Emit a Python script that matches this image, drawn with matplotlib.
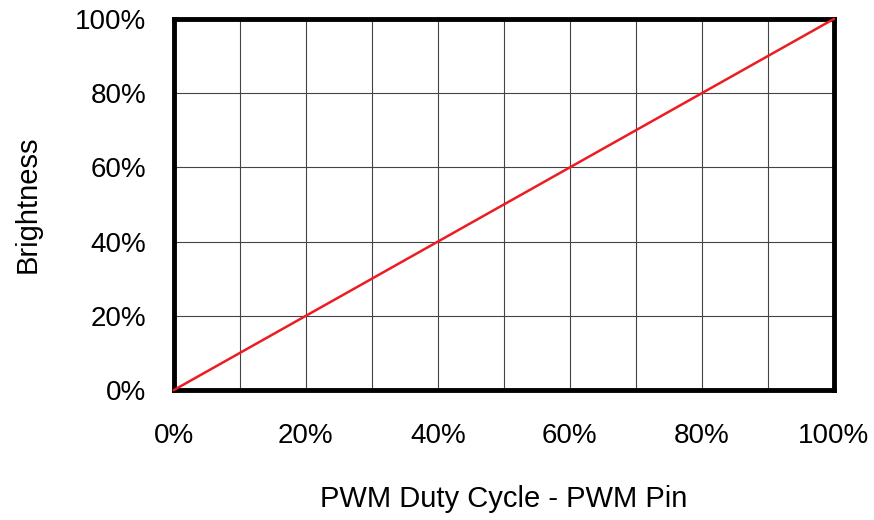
import numpy as np
from matplotlib import pyplot as plt
from matplotlib.ticker import PercentFormatter

plt.rcParams['font.family'] = ['Liberation Sans', 'DejaVu Sans']

duty = [0, 100]
brightness = [0, 100]
xticks = [0, 20, 40, 60, 80, 100]
yticks = [0, 20, 40, 60, 80, 100]

fig = plt.figure(figsize=(8.74, 5.2), dpi=100)
ax = fig.add_axes([0.199, 0.25, 0.755, 0.7135])

ax.set_xlim(0, 100)
ax.set_ylim(0, 100)
ax.set_xticks(range(0, 101, 10), minor=True)
ax.set_xticks(xticks)
ax.set_yticks(yticks)
ax.xaxis.set_major_formatter(PercentFormatter(decimals=0))
ax.yaxis.set_major_formatter(PercentFormatter(decimals=0))

ax.grid(True, which='both', axis='x', color='#444444', linewidth=0.8)
ax.grid(True, which='major', axis='y', color='#444444', linewidth=0.8)
ax.tick_params(which='both', length=0, labelsize=20)
ax.tick_params(axis='x', pad=24)
ax.tick_params(axis='y', pad=20)

ax.plot(duty, brightness, color='#ec1c24', linewidth=1.8, zorder=3, clip_on=False)

for s in ax.spines.values():
    s.set_linewidth(3.5)
    s.set_color('black')

ax.set_xlabel('PWM Duty Cycle - PWM Pin', fontsize=21, labelpad=26)
ax.set_ylabel('Brightness', fontsize=21, labelpad=24)

fig.savefig('out.png', dpi=100)
